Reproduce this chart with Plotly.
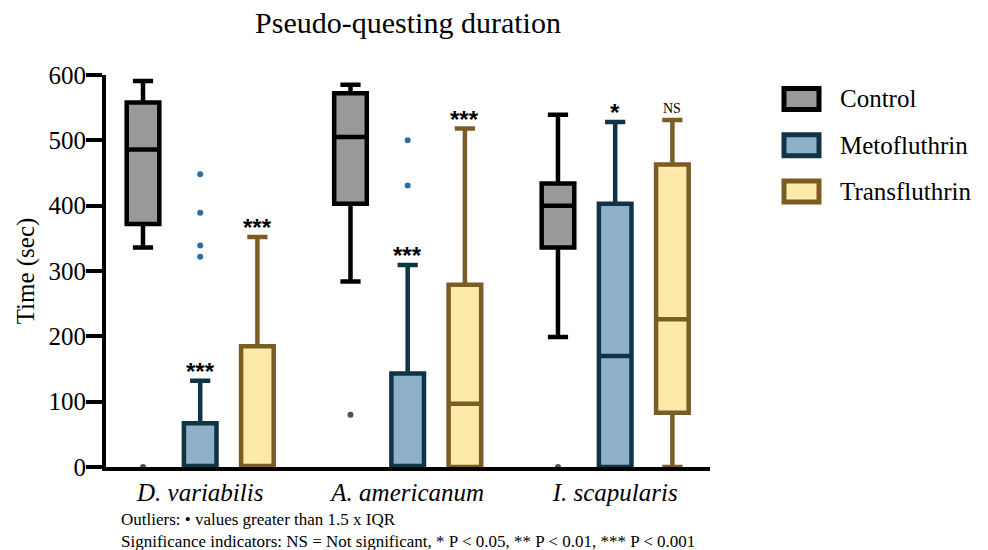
import plotly.graph_objects as go

# Categories and series
species = ["D. variabilis", "A. americanum", "I. scapularis"]
series = ["Control", "Metofluthrin", "Transfluthrin"]

# Box statistics (seconds) per species
control_lower = [336, 284, 199]
control_q1 = [372, 403, 336]
control_median = [486, 505, 400]
control_q3 = [558, 572, 434]
control_upper = [591, 585, 539]
control_outliers = [[0], [80], [0]]

meto_lower = [0, 0, 0]
meto_q1 = [0, 0, 0]
meto_median = [0, 0, 170]
meto_q3 = [67, 143, 403]
meto_upper = [132, 309, 528]
meto_outliers = [[448, 389, 339, 322], [500, 431], []]

trans_lower = [0, 0, 0]
trans_q1 = [0, 0, 83]
trans_median = [0, 97, 226]
trans_q3 = [185, 279, 463]
trans_upper = [352, 518, 531]
trans_outliers = [[], [], []]

# Significance vs. control
control_sig = ["", "", ""]
meto_sig = ["***", "***", "*"]
trans_sig = ["***", "***", "NS"]

y_ticks = [0, 100, 200, 300, 400, 500, 600]

FONT = "Liberation Serif, Times New Roman, serif"
STAR_FONT = "Liberation Sans, Arial, sans-serif"
BOXGAP = 0.173
BOXGROUPGAP = 0.43

styles = {
    "Control": dict(fill="#999999", line="#000000", dot="#505050"),
    "Metofluthrin": dict(fill="#8fb0c9", line="#0f3446", dot="#2a6fa3"),
    "Transfluthrin": dict(fill="#fde9a8", line="#7b5c25", dot="#7b5c25"),
}

stats = {
    "Control": (control_lower, control_q1, control_median, control_q3, control_upper, control_outliers, control_sig),
    "Metofluthrin": (meto_lower, meto_q1, meto_median, meto_q3, meto_upper, meto_outliers, meto_sig),
    "Transfluthrin": (trans_lower, trans_q1, trans_median, trans_q3, trans_upper, trans_outliers, trans_sig),
}

fig = go.Figure()
annotations = []
n_series = len(series)
for k, name in enumerate(series):
    lo, q1, med, q3, up, outl, sig = stats[name]
    st = styles[name]
    box_kw = dict(
        name=name,
        x=species,
        lowerfence=lo, q1=q1, median=med, q3=q3, upperfence=up,
        fillcolor=st["fill"],
        line=dict(color=st["line"], width=4.5),
        whiskerwidth=0.62,
        showlegend=False,
        hoverinfo="skip",
        offsetgroup=name,
    )
    if any(len(v) for v in outl):
        # outlying samples shown as dots on the box centre line
        box_kw.update(y=outl, boxpoints="all", jitter=0, pointpos=0,
                      marker=dict(color=st["dot"], size=6, line=dict(width=0)))
    else:
        box_kw.update(boxpoints=False)
    fig.add_trace(go.Box(**box_kw))

    # significance marks above the upper whisker of each box
    offset = (k - (n_series - 1) / 2) * (1 - BOXGAP) / n_series
    for i, label in enumerate(sig):
        if not label:
            continue
        is_ns = label == "NS"
        annotations.append(dict(
            x=i + offset, y=up[i], xref="x", yref="y",
            text=label if is_ns else "<b>%s</b>" % label,
            showarrow=False, yanchor="bottom",
            yshift=2 if is_ns else -6,
            font=dict(family=FONT if is_ns else STAR_FONT, size=14 if is_ns else 24, color="black"),
        ))

# Legend drawn as framed swatches with labels
PLOT_L, PLOT_R, PLOT_T, PLOT_B = 106, 710, 75, 467
def px_to_paper(px, py):
    return (px - PLOT_L) / (PLOT_R - PLOT_L), (PLOT_B - py) / (PLOT_B - PLOT_T)

shapes = []
for k, name in enumerate(series):
    cy = 99 + k * 46.3
    x0, y0 = px_to_paper(784, cy - 10.5)
    x1, y1 = px_to_paper(819, cy + 10.5)
    shapes.append(dict(type="rect", xref="paper", yref="paper",
                       x0=x0, x1=x1, y0=y0, y1=y1,
                       fillcolor=styles[name]["fill"],
                       line=dict(color=styles[name]["line"], width=5)))
    tx, ty = px_to_paper(838, cy)
    annotations.append(dict(x=tx, y=ty, xref="paper", yref="paper",
                            text=name, showarrow=False, xanchor="left", yanchor="middle",
                            font=dict(family=FONT, size=25, color="black")))

# Footnotes
for text, py in [("Outliers: \u2022 values greater than 1.5 x IQR", 519),
                 ("Significance indicators: NS = Not significant, * P < 0.05, ** P < 0.01, *** P < 0.001", 541)]:
    tx, ty = px_to_paper(119, py)
    annotations.append(dict(x=tx, y=ty, xref="paper", yref="paper",
                            text=text, showarrow=False, xanchor="left", yanchor="middle",
                            font=dict(family=FONT, size=17, color="black")))

fig.update_layout(
    width=988, height=550,
    margin=dict(l=PLOT_L, r=988 - PLOT_R, t=PLOT_T, b=550 - PLOT_B, pad=0),
    paper_bgcolor="white", plot_bgcolor="white",
    boxmode="group", boxgap=BOXGAP, boxgroupgap=BOXGROUPGAP,
    title=dict(text="Pseudo-questing duration", x=(PLOT_L + PLOT_R) / 2 / 988, xanchor="center",
               y=1 - 22 / 550, yanchor="middle", yref="container",
               font=dict(family=FONT, size=30, color="black")),
    font=dict(family=FONT, color="black"),
    xaxis=dict(type="category", range=[-0.454, 2.457], showline=True, linewidth=4,
               linecolor="black", ticks="", showgrid=False, zeroline=False,
               tickfont=dict(family=FONT, size=25, style="italic", color="black")),
    yaxis=dict(range=[0, 600], tickvals=y_ticks, ticks="outside", ticklen=16, tickwidth=4,
               tickcolor="black", showline=True, linewidth=4, linecolor="black",
               showgrid=False, zeroline=False, ticklabelstandoff=-5,
               tickfont=dict(family=FONT, size=25, color="black"),
               title=dict(text="Time (sec)", font=dict(family=FONT, size=25, color="black"),
                          standoff=8)),
    shapes=shapes,
    annotations=annotations,
)

fig.write_html("out.html")
